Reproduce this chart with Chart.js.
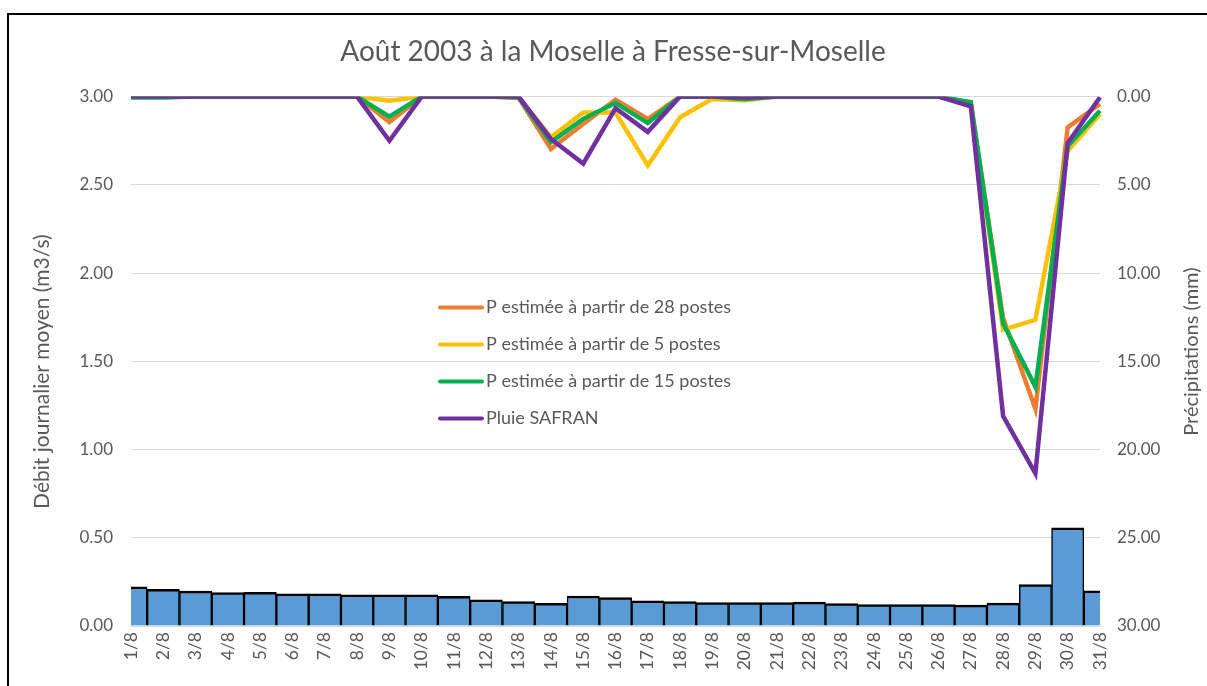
<!DOCTYPE html>
<html lang="fr">
<head>
<meta charset="utf-8">
<title>Août 2003 à la Moselle à Fresse-sur-Moselle</title>
<script src="https://cdn.jsdelivr.net/npm/chart.js@4.4.1/dist/chart.umd.min.js"></script>
<style>
  html, body { margin: 0; padding: 0; background: #fff; overflow: hidden; }
  #frame { position: absolute; left: 7px; top: 13px; width: 1300px; height: 800px; border: 2px solid #000; }
  #wrap { position: absolute; left: 0; top: 0; width: 1207px; height: 686px; }
</style>
</head>
<body>
<div id="frame"></div>
<div id="wrap"><canvas id="moselleChart" width="1207" height="686"></canvas></div>
<script>
const days = ["1/8","2/8","3/8","4/8","5/8","6/8","7/8","8/8","9/8","10/8",
              "11/8","12/8","13/8","14/8","15/8","16/8","17/8","18/8","19/8","20/8",
              "21/8","22/8","23/8","24/8","25/8","26/8","27/8","28/8","29/8","30/8","31/8"];

// débit journalier moyen (m3/s)
const debit = [0.222,0.208,0.198,0.190,0.191,0.183,0.183,0.177,0.176,0.177,
               0.168,0.148,0.138,0.128,0.170,0.161,0.142,0.139,0.133,0.133,
               0.133,0.135,0.127,0.121,0.121,0.122,0.118,0.130,0.235,0.556,0.200];

// précipitations (mm)
const p28 = [0,0,0,0,0,0,0,0,1.45,0,0,0,0.05,2.96,1.55,0.17,1.27,0,0,0.1,
             0,0,0,0,0,0,0.4,12.55,17.7,1.74,0.42];
const p5 = [0,0,0,0,0,0,0,0,0.23,0,0,0,0.05,2.3,0.9,0.9,3.9,1.17,0.13,0.2,
            0,0,0,0,0,0,0.35,13.2,12.65,3.07,0.98];
const p15 = [0.05,0.05,0,0,0,0,0,0,1.13,0,0,0,0.05,2.58,1.26,0.36,1.5,0,0,0.15,
             0,0,0,0,0,0,0.32,12.85,16.45,2.8,0.8];
const safran = [0,0,0,0,0,0,0,0,2.5,0,0,0,0,2.4,3.8,0.66,2.0,0,0,0.05,
                0,0,0,0,0,0,0.55,18.1,21.35,2.63,0.04];

const debitTicks = [0, 0.5, 1, 1.5, 2, 2.5, 3];
const pluieTicks = [0, 5, 10, 15, 20, 25, 30];

const GRAY = "#595959";
const FONT = "Lato, 'Open Sans', sans-serif";

/* ================= PLUGINS ================= */
// legend drawn inside the plot, no background
const inlineLegend = {
    id: "inlineLegend",
    afterDraw(chart) {
        const { ctx, chartArea } = chart;
        const x = chartArea.left + 307;
        const y0 = chartArea.top + 211;
        ctx.save();
        ctx.font = "18px " + FONT;
        ctx.textBaseline = "middle";
        ctx.lineCap = "round";
        chart.data.datasets.filter(d => d.type === "line").forEach((d, i) => {
            const y = y0 + i * 37;
            ctx.strokeStyle = d.borderColor;
            ctx.lineWidth = 4;
            ctx.beginPath();
            ctx.moveTo(x + 2, y);
            ctx.lineTo(x + 44, y);
            ctx.stroke();
            ctx.fillStyle = GRAY;
            ctx.fillText(d.label, x + 48, y);
        });
        ctx.restore();
    }
};

// both axis titles read bottom to top
const axisTitles = {
    id: "axisTitles",
    afterDraw(chart) {
        const { ctx, chartArea } = chart;
        ctx.save();
        ctx.fillStyle = GRAY;
        ctx.textAlign = "center";
        ctx.textBaseline = "middle";
        [[chartArea.left - 89, chartArea.top + 275, 21, "Débit journalier moyen (m3/s)"],
         [chartArea.right + 92, chartArea.top + 255, 20, "Précipitations (mm)"]]
            .forEach(([x, y, size, text]) => {
                ctx.save();
                ctx.font = size + "px " + FONT;
                ctx.translate(x, y);
                ctx.rotate(-Math.PI / 2);
                ctx.fillText(text, 0, 0);
                ctx.restore();
            });
        ctx.restore();
    }
};

/* ================= CHART ================= */
function lineSet(label, data, color, order) {
    return {
        type: "line",
        label,
        data,
        yAxisID: "y1",
        borderColor: color,
        backgroundColor: color,
        borderWidth: 4.5,
        pointRadius: 0,
        tension: 0,
        fill: false,
        order
    };
}

new Chart(document.getElementById("moselleChart"), {
    type: "bar",
    data: {
        labels: days,
        datasets: [
            {
                type: "bar",
                label: "Débit journalier moyen",
                data: debit,
                yAxisID: "y",
                backgroundColor: "#5B9BD5",
                borderColor: "#000",
                borderWidth: { top: 2.5, left: 1.5, right: 1.5, bottom: 0 },
                borderSkipped: false,
                categoryPercentage: 1,
                barPercentage: 1,
                clip: 0,
                order: 5
            },
            lineSet("P estimée à partir de 28 postes", p28, "#ED7D31", 4),
            lineSet("P estimée à partir de 5 postes", p5, "#FFC000", 3),
            lineSet("P estimée à partir de 15 postes", p15, "#00B050", 2),
            lineSet("Pluie SAFRAN", safran, "#7030A0", 1)
        ]
    },
    options: {
        responsive: false,
        animation: false,
        // left padding only nudges the centred title; the y axis width compensates
        layout: { padding: { left: 19, right: 0, top: 0, bottom: 0 } },
        plugins: {
            legend: { display: false },
            tooltip: { enabled: false },
            title: {
                display: true,
                text: "Août 2003 à la Moselle à Fresse-sur-Moselle",
                color: GRAY,
                font: { family: FONT, size: 28, weight: "normal", lineHeight: 1.2 },
                padding: { top: 35, bottom: 28 }
            }
        },
        scales: {
            x: {
                offset: false,
                grid: { display: false, drawTicks: false },
                border: { color: "#D9D9D9", width: 1 },
                ticks: {
                    autoSkip: false,
                    maxRotation: 90,
                    minRotation: 90,
                    padding: 6,
                    color: GRAY,
                    font: { family: FONT, size: 17.5 }
                },
                afterFit: s => { s.height = 60; }
            },
            y: {
                position: "left",
                min: 0,
                max: 3,
                afterBuildTicks: s => { s.ticks = debitTicks.map(v => ({ value: v })); },
                ticks: {
                    callback: v => Number(v).toFixed(2),
                    padding: 18,
                    color: GRAY,
                    font: { family: FONT, size: 17 }
                },
                grid: { color: "#D9D9D9", drawTicks: false, lineWidth: 1 },
                border: { display: false },
                afterFit: s => { s.width = 112; }
            },
            y1: {
                position: "right",
                reverse: true,
                min: 0,
                max: 30,
                afterBuildTicks: s => { s.ticks = pluieTicks.map(v => ({ value: v })); },
                ticks: {
                    callback: v => Number(v).toFixed(2),
                    padding: 17,
                    color: GRAY,
                    font: { family: FONT, size: 17 }
                },
                grid: { drawOnChartArea: false, drawTicks: false },
                border: { display: false },
                afterFit: s => { s.width = 107; }
            }
        }
    },
    plugins: [inlineLegend, axisTitles]
});
</script>
</body>
</html>
